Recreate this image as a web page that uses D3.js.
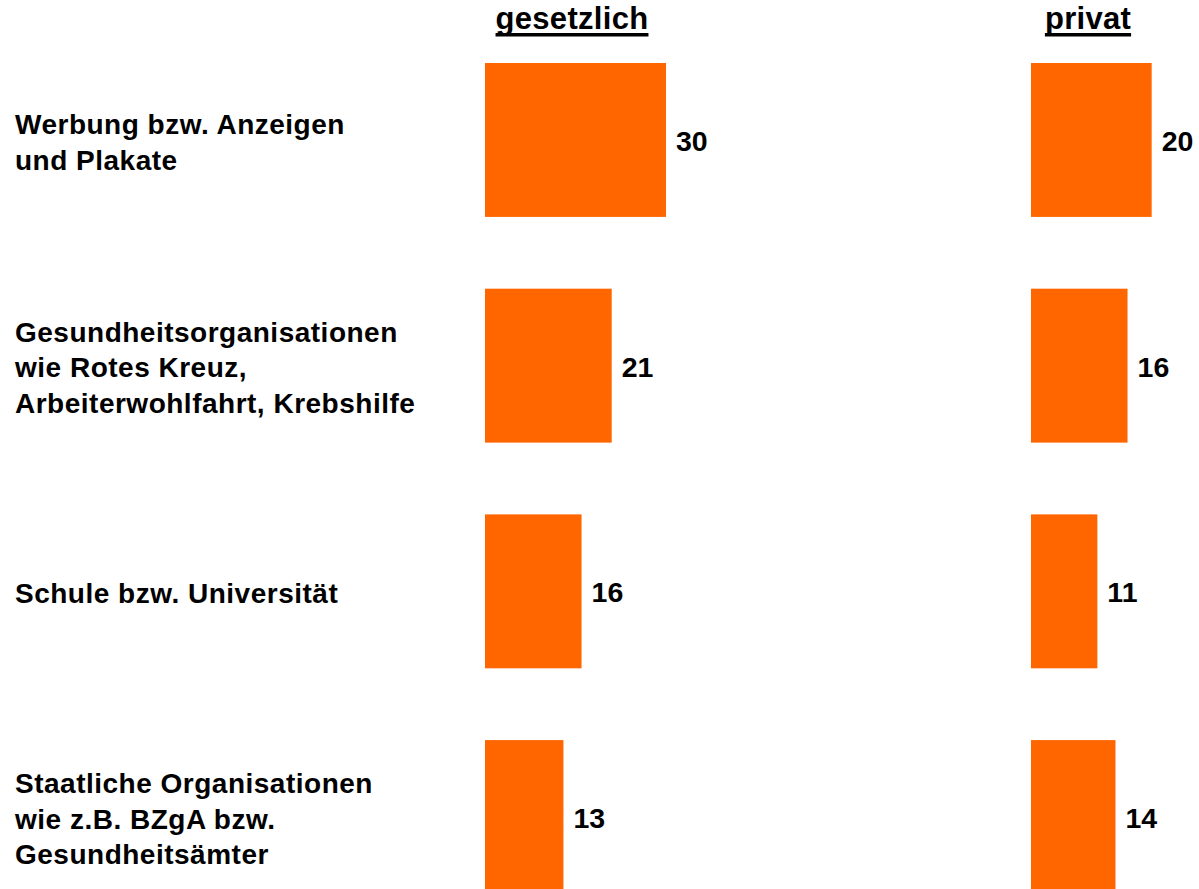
<!DOCTYPE html>
<html>
<head>
<meta charset="utf-8">
<script src="https://cdn.jsdelivr.net/npm/d3@7"></script>
<style>
  body { margin: 0; background: #fff; }
  svg text { font-family: "Liberation Sans", Arial, sans-serif; font-weight: bold; fill: #000; }
</style>
</head>
<body>
<div id="chart"></div>
<script>
// data
const categories = [
    "Werbung bzw. Anzeigen|und Plakate",
    "Gesundheitsorganisationen|wie Rotes Kreuz,|Arbeiterwohlfahrt, Krebshilfe",
    "Schule bzw. Universität",
    "Staatliche Organisationen|wie z.B. BZgA bzw.|Gesundheitsämter"
];
const columns = ["gesetzlich", "privat"];
const gesetzlich = [30, 21, 16, 13];
const privat = [20, 16, 11, 14];

const width = 1199, height = 889;

const svg = d3.select("#chart").append("svg")
    .attr("width", width)
    .attr("height", height);

const yScale = d3.scaleBand()
    .domain(categories)
    .range([63, 894])
    .paddingInner(0.318)
    .paddingOuter(0);

const xScale = d3.scaleLinear()
    .domain([0, 30])
    .range([0, 181]);

// where each column of bars starts, and where its header sits
const colX = d3.scaleOrdinal().domain(columns).range([485, 1031]);
const headX = d3.scaleOrdinal().domain(columns).range([572, 1088]);

const series = [
    { name: "gesetzlich", values: gesetzlich },
    { name: "privat", values: privat }
];

// category labels
const labels = svg.append("g").selectAll("text")
    .data(categories)
    .enter().append("text")
    .attr("x", 15)
    .attr("font-size", 28)
    .attr("letter-spacing", 0.5);

labels.each(function(d) {
    const lines = d.split("|");
    const lh = 35.5;
    const cy = yScale(d) + yScale.bandwidth() / 2 + 2;
    d3.select(this).selectAll("tspan")
        .data(lines)
        .enter().append("tspan")
        .attr("x", 15)
        .attr("y", (l, i) => cy + (i - (lines.length - 1) / 2) * lh)
        .attr("dy", "0.35em")
        .text(l => l);
});

// column headers, underlined
const heads = svg.append("g").selectAll("g")
    .data(columns)
    .enter().append("g");

heads.append("text")
    .attr("x", d => headX(d))
    .attr("y", 29)
    .attr("text-anchor", "middle")
    .attr("font-size", 31)
    .attr("letter-spacing", 0.3)
    .text(d => d);

heads.each(function() {
    const bb = d3.select(this).select("text").node().getBBox();
    d3.select(this).append("rect")
        .attr("x", bb.x)
        .attr("y", 33)
        .attr("width", bb.width)
        .attr("height", 3.5)
        .attr("fill", "#000");
});

series.forEach(s => {
    const g = svg.append("g").attr("class", "series-" + s.name);
    const rows = categories.map((c, i) => ({ cat: c, value: s.values[i] }));

    g.selectAll("rect")
        .data(rows)
        .enter().append("rect")
        .attr("x", colX(s.name))
        .attr("y", d => yScale(d.cat))
        .attr("width", d => xScale(d.value))
        .attr("height", yScale.bandwidth())
        .attr("fill", "#FF6600");

    g.selectAll("text")
        .data(rows)
        .enter().append("text")
        .attr("x", d => colX(s.name) + xScale(d.value) + 10)
        .attr("y", d => yScale(d.cat) + yScale.bandwidth() / 2 + 1)
        .attr("dy", "0.35em")
        .attr("font-size", 28.5)
        .text(d => d.value);
});
</script>
</body>
</html>
